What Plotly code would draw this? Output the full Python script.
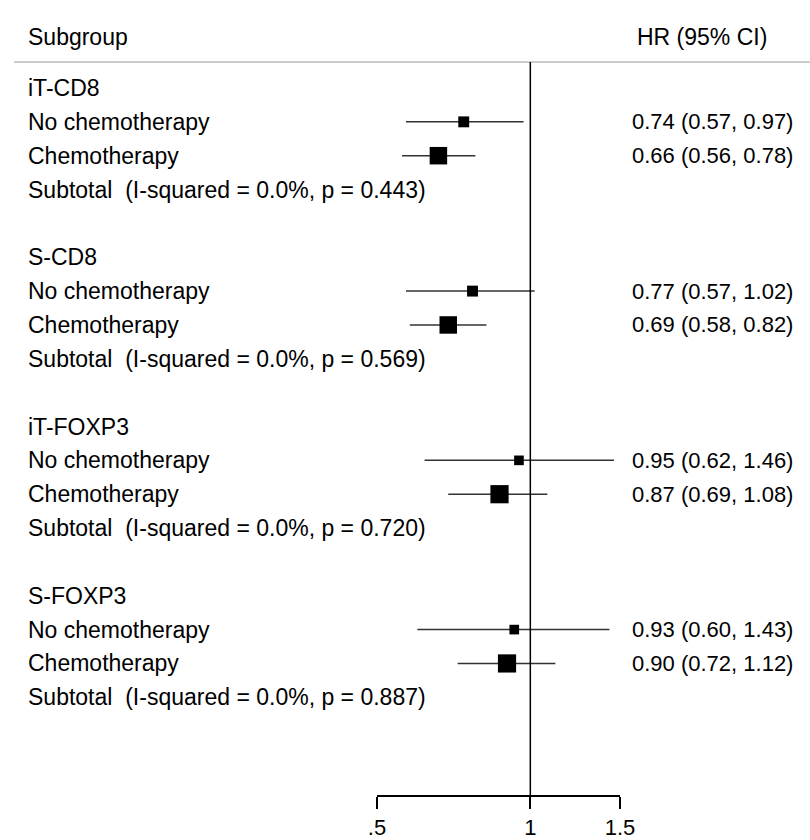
import math
import plotly.graph_objects as go

groups = ["iT-CD8", "S-CD8", "iT-FOXP3", "S-FOXP3"]
subgroups = ["No chemotherapy", "Chemotherapy"]
hr = [[0.74, 0.66], [0.77, 0.69], [0.95, 0.87], [0.93, 0.90]]
lo = [[0.57, 0.56], [0.57, 0.58], [0.62, 0.69], [0.60, 0.72]]
hi = [[0.97, 0.78], [1.02, 0.82], [1.46, 1.08], [1.43, 1.12]]
weights = [[28, 72], [28, 72], [22, 78], [22, 78]]
i2 = ["0.0%", "0.0%", "0.0%", "0.0%"]
pvals = ["0.443", "0.569", "0.720", "0.887"]
tick_vals = [0.5, 1, 1.5]
tick_text = [".5", "1", "1.5"]

W, H = 810, 840
FONT = "Liberation Sans, Arial, sans-serif"
FS = 22
FS_LABEL = 23
ROW0_PX = 88.0
ROW_PX = 33.85
AXIS_PX = 796.0
SEP_PX = 62.0
X_LEFT_PX, X_RIGHT_PX = 377.0, 620.0

def row_of_px(p):
    return (p - ROW0_PX) / ROW_PX

fig = go.Figure()
ann = []
lab = dict(family=FONT, size=FS_LABEL, color="black")

ann.append(dict(x=26 / W, y=row_of_px(37), xref="paper", yref="y", text="Subgroup",
                showarrow=False, xanchor="left", yanchor="middle", font=lab))
ann.append(dict(x=702 / W, y=row_of_px(37), xref="paper", yref="y", text="HR (95% CI)",
                showarrow=False, xanchor="center", yanchor="middle", font=lab))

for g, name in enumerate(groups):
    base = g * 5
    ann.append(dict(x=26 / W, y=base, xref="paper", yref="y", text=name,
                    showarrow=False, xanchor="left", yanchor="middle", font=lab))
    for s, sub in enumerate(subgroups):
        r = base + 1 + s
        ann.append(dict(x=26 / W, y=r, xref="paper", yref="y", text=sub,
                        showarrow=False, xanchor="left", yanchor="middle", font=lab))
        ann.append(dict(x=795 / W, y=r, xref="paper", yref="y",
                        text=f"{hr[g][s]:.2f} ({lo[g][s]:.2f}, {hi[g][s]:.2f})",
                        showarrow=False, xanchor="right", yanchor="middle"))
        fig.add_trace(go.Scatter(x=[lo[g][s], hi[g][s]], y=[r, r], mode="lines",
                                 line=dict(color="#333333", width=1.5),
                                 hoverinfo="skip", showlegend=False, cliponaxis=False))
        fig.add_trace(go.Scatter(x=[hr[g][s]], y=[r], mode="markers",
                                 marker=dict(symbol="square", color="black",
                                             size=2.06 * math.sqrt(weights[g][s]),
                                             line=dict(width=0)),
                                 showlegend=False, cliponaxis=False))
    ann.append(dict(x=26 / W, y=base + 3, xref="paper", yref="y",
                    text=f"Subtotal  (I-squared = {i2[g]}, p = {pvals[g]})",
                    showarrow=False, xanchor="left", yanchor="middle", font=lab))

shapes = [
    dict(type="line", xref="paper", yref="paper", x0=14 / W, x1=1, y0=1 - SEP_PX / H, y1=1 - SEP_PX / H,
         line=dict(color="#cccccc", width=2)),
    dict(type="line", xref="x", yref="paper", x0=1, x1=1, y0=1 - AXIS_PX / H, y1=1 - SEP_PX / H,
         line=dict(color="black", width=1.5)),
]

fig.update_layout(
    width=W, height=H, margin=dict(l=0, r=0, t=0, b=0, pad=0, autoexpand=False),
    paper_bgcolor="white", plot_bgcolor="white",
    font=dict(family=FONT, size=FS, color="black"),
    annotations=ann, shapes=shapes,
    xaxis=dict(type="log", domain=[X_LEFT_PX / W, X_RIGHT_PX / W],
               range=[math.log10(0.5), math.log10(1.5)],
               tickvals=tick_vals, ticktext=tick_text,
               ticks="outside", ticklen=12, tickwidth=1.5, tickcolor="black",
               showline=True, linecolor="black", linewidth=1.5,
               showgrid=False, zeroline=False,
               anchor="free", position=1 - AXIS_PX / H,
               tickfont=dict(family=FONT, size=FS, color="black")),
    yaxis=dict(range=[row_of_px(H), row_of_px(0)], visible=False,
               showgrid=False, zeroline=False),
)

fig.write_html("out.html")
